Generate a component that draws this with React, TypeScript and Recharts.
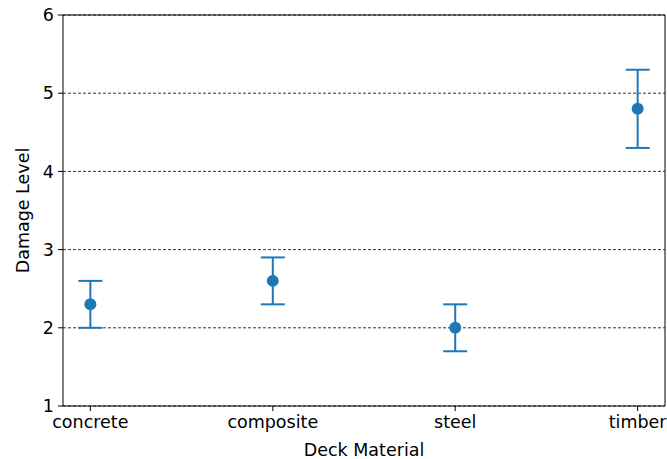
import React from "react";
import {
  ComposedChart,
  Scatter,
  ErrorBar,
  XAxis,
  YAxis,
  CartesianGrid,
  ReferenceLine,
  Label,
} from "recharts";

const materials = ["concrete", "composite", "steel", "timber"];
const damageMean = [2.3, 2.6, 2.0, 4.8];
const damageErr = [0.3, 0.3, 0.3, 0.5];
const yTicks = [1, 2, 3, 4, 5, 6];

const BLUE = "#1f77b4";
const FONT = "DejaVu Sans, sans-serif";
const FS = 17.5;

const data = materials.map((name, i) => ({
  x: i,
  y: damageMean[i],
  err: damageErr[i],
  name,
}));

const Dot = (props: any) => {
  const { cx, cy } = props;
  return <circle cx={cx} cy={cy} r={6} fill={BLUE} />;
};

export default function App() {
  const tick = { fontSize: FS, fill: "#000", fontFamily: FONT };
  return (
    <div style={{ position: "absolute", left: 0, top: 0, background: "#fff" }}>
      <ComposedChart
        width={667}
        height={459}
        data={data}
        margin={{ top: 15, right: 2, left: 0, bottom: 0 }}
      >
        <CartesianGrid
          vertical={false}
          stroke="#000"
          strokeWidth={0.8}
          strokeDasharray="3 2"
        />
        <XAxis
          dataKey="x"
          type="number"
          domain={[-0.15, 3.15]}
          ticks={[0, 1, 2, 3]}
          tickFormatter={(v: number) => materials[v] ?? ""}
          height={53}
          tick={tick}
          tickSize={5}
          tickMargin={5}
          stroke="#000"
          axisLine={{ stroke: "#000", strokeWidth: 1 }}
          tickLine={{ stroke: "#000" }}
          allowDataOverflow
        >
          <Label
            value="Deck Material"
            position="insideBottom"
            offset={3}
            style={{ fontSize: FS, fill: "#000", fontFamily: FONT }}
          />
        </XAxis>
        <YAxis
          type="number"
          domain={[1, 6]}
          ticks={yTicks}
          width={63}
          tick={tick}
          tickSize={5}
          tickMargin={4}
          stroke="#000"
          axisLine={{ stroke: "#000", strokeWidth: 1 }}
          tickLine={{ stroke: "#000" }}
          allowDataOverflow
        >
          <Label
            value="Damage Level"
            angle={-90}
            position="insideLeft"
            offset={23}
            style={{ fontSize: FS, fill: "#000", fontFamily: FONT, textAnchor: "middle" }}
          />
        </YAxis>
        <ReferenceLine y={6} stroke="#000" strokeWidth={1} />
        <ReferenceLine x={3.15} stroke="#000" strokeWidth={1} />
        <Scatter
          dataKey="y"
          fill={BLUE}
          shape={<Dot />}
          isAnimationActive={false}
        >
          <ErrorBar
            dataKey="err"
            direction="y"
            width={12}
            stroke={BLUE}
            strokeWidth={2}
            isAnimationActive={false}
          />
        </Scatter>
      </ComposedChart>
    </div>
  );
}
